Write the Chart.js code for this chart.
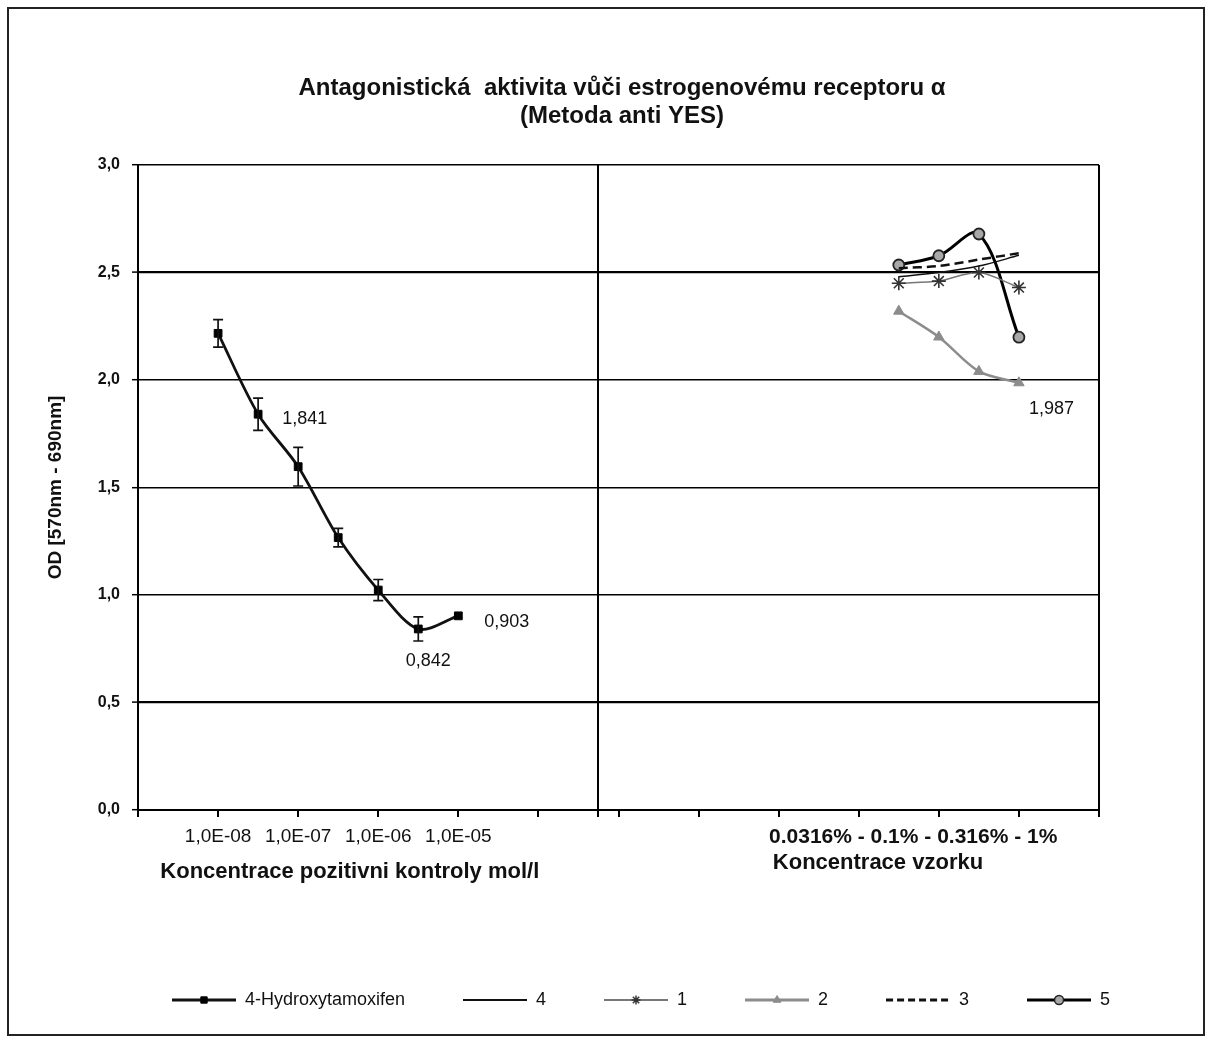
<!DOCTYPE html>
<html><head><meta charset="utf-8">
<script src="https://cdn.jsdelivr.net/npm/chart.js@4/dist/chart.umd.min.js"></script>
<style>html,body{margin:0;padding:0;background:#fff}canvas{display:block}</style>
</head><body>
<canvas id="c" width="1212" height="1038" style="width:1212px;height:1038px"></canvas>
<script>
// ---------- data ----------
const titleLines = ['Antagonistická  aktivita vůči estrogenovému receptoru α', '(Metoda anti YES)'];
const yAxisTitle = 'OD [570nm - 690nm]';
const xTitleControl = 'Koncentrace pozitivni kontroly mol/l';
const xTitleSample = 'Koncentrace vzorku';
const controlConc = ['1,0E-08', '3,16E-08', '1,0E-07', '3,16E-07', '1,0E-06', '3,16E-06', '1,0E-05'];
const sampleConc = ['0.0316%', '0.1%', '0.316%', '1%'];
const yTicks = [0, 0.5, 1, 1.5, 2, 2.5, 3];
const hydroxy = [2.217, 1.841, 1.597, 1.267, 1.023, 0.842, 0.903];
const hydroxyErr = [0.064, 0.075, 0.09, 0.043, 0.049, 0.056, 0.0];
const s4 = [2.48, 2.50, 2.53, 2.58];
const s1 = [2.45, 2.46, 2.50, 2.43];
const s2 = [2.32, 2.20, 2.04, 1.987];
const s3 = [2.52, 2.53, 2.56, 2.59];
const s5 = [2.535, 2.578, 2.679, 2.199];

// ---------- layout constants (category slots on the x axis) ----------
const SLOTS = 24, CONTROL_START = 2, SAMPLE_START = 19, DIVIDER = 11.5, SAMPLE_LABEL_POS = 19.36;
const FONT = "'Liberation Sans', Arial, sans-serif";
Chart.defaults.font.family = FONT;
Chart.defaults.color = '#111';

const tickLabelMap = new Map();
controlConc.forEach((c, i) => { if (i % 2 === 0) tickLabelMap.set(CONTROL_START + i, c); });
tickLabelMap.set(SAMPLE_LABEL_POS, sampleConc.join(' - '));
const xTickValues = [];
for (let v = 0; v <= SLOTS; v += 2) { xTickValues.push(v); if (v === 10) xTickValues.push(DIVIDER); }
xTickValues.push(SAMPLE_LABEL_POS);
xTickValues.sort((a, b) => a - b);

const ctrlPts = vals => vals.map((v, i) => ({x: CONTROL_START + i, y: v}));
const smplPts = vals => vals.map((v, i) => ({x: SAMPLE_START + i, y: v}));

const datasets = [
  {label: '4-Hydroxytamoxifen', data: ctrlPts(hydroxy), borderColor: '#111', borderWidth: 2.8,
   pointStyle: 'rect', pointRadius: 5.5, pointBackgroundColor: '#000', pointBorderColor: '#000', pointBorderWidth: 1, tension: 0.3},
  {label: '4', data: smplPts(s4), borderColor: '#111', borderWidth: 1.4, pointRadius: 0, tension: 0.3},
  {label: '1', data: smplPts(s1), borderColor: '#777', borderWidth: 1.5, pointStyle: 'star', pointRadius: 7,
   pointBorderColor: '#333', pointBackgroundColor: '#333', pointBorderWidth: 1.6, tension: 0.3},
  {label: '2', data: smplPts(s2), borderColor: '#8c8c8c', borderWidth: 2.4, pointStyle: 'triangle', pointRadius: 6,
   pointBackgroundColor: '#8c8c8c', pointBorderColor: '#8c8c8c', pointBorderWidth: 1, tension: 0.3},
  {label: '3', data: smplPts(s3), borderColor: '#111', borderWidth: 2.5, borderDash: [9, 5], pointRadius: 0, tension: 0.3},
  {label: '5', data: smplPts(s5), borderColor: '#000', borderWidth: 3, pointStyle: 'circle', pointRadius: 5.5,
   pointBackgroundColor: '#a8a8a8', pointBorderColor: '#222', pointBorderWidth: 1.8, tension: 0.35}
];

// legend samples: line + marker
function makeSample(ds) {
  const c = document.createElement('canvas');
  c.width = 64; c.height = 16;
  const g = c.getContext('2d');
  g.strokeStyle = ds.borderColor; g.lineWidth = Math.min(ds.borderWidth + 0.4, 3);
  if (ds.borderDash) g.setLineDash([7, 4]);
  g.beginPath(); g.moveTo(0, 8); g.lineTo(64, 8); g.stroke();
  g.setLineDash([]);
  if (ds.pointRadius > 0) {
    g.fillStyle = ds.pointBackgroundColor; g.strokeStyle = ds.pointBorderColor;
    g.lineWidth = Math.min(ds.pointBorderWidth || 1, 1.5);
    const opts = {pointStyle: ds.pointStyle, radius: Math.min(ds.pointRadius, 4.5), rotation: 0, borderWidth: g.lineWidth};
    if (Chart.helpers && Chart.helpers.drawPoint) Chart.helpers.drawPoint(g, opts, 32, 8);
  }
  return c;
}
const legendImgs = datasets.map(makeSample);

const dataLabels = [
  {ds: 0, i: 1, dx: 24, dy: 5, align: 'left'},
  {ds: 0, i: 5, dx: 10, dy: 32, align: 'center'},
  {ds: 0, i: 6, dx: 26, dy: 6, align: 'left'},
  {ds: 3, i: 3, dx: 10, dy: 26, align: 'left'}
];

const extras = {
  id: 'extras',
  beforeDraw(chart) {
    const {ctx} = chart;
    ctx.save();
    ctx.fillStyle = '#fff'; ctx.fillRect(0, 0, chart.width, chart.height);
    ctx.strokeStyle = '#222'; ctx.lineWidth = 2;
    ctx.strokeRect(8, 8, 1196, 1027);
    ctx.restore();
  },
  afterLayout(chart) {
    const lg = chart.legend;
    if (lg) { lg.left += 19; lg.right += 19; }
  },
  afterDatasetsDraw(chart) {
    const {ctx} = chart;
    const xs = chart.scales.x, ys = chart.scales.y;
    ctx.save();
    ctx.strokeStyle = '#111'; ctx.lineWidth = 1.7;
    hydroxy.forEach((v, i) => {
      const e = hydroxyErr[i];
      if (!e) return;
      const x = xs.getPixelForValue(CONTROL_START + i);
      const yt = ys.getPixelForValue(v + e), yb = ys.getPixelForValue(v - e);
      ctx.beginPath();
      ctx.moveTo(x, yt); ctx.lineTo(x, yb);
      ctx.moveTo(x - 5, yt); ctx.lineTo(x + 5, yt);
      ctx.moveTo(x - 5, yb); ctx.lineTo(x + 5, yb);
      ctx.stroke();
    });
    ctx.fillStyle = '#111';
    ctx.font = '18px ' + FONT;
    ctx.textBaseline = 'middle';
    dataLabels.forEach(d => {
      const pt = chart.getDatasetMeta(d.ds).data[d.i];
      const v = chart.data.datasets[d.ds].data[d.i].y;
      ctx.textAlign = d.align;
      ctx.fillText(v.toFixed(3).replace('.', ','), pt.x + d.dx, pt.y + d.dy);
    });
    ctx.restore();
  },
  afterDraw(chart) {
    const {ctx} = chart;
    const xs = chart.scales.x;
    ctx.save();
    ctx.fillStyle = '#111';
    ctx.font = 'bold 22px ' + FONT;
    ctx.textAlign = 'center'; ctx.textBaseline = 'middle';
    ctx.fillText(xTitleControl, xs.getPixelForValue(5.29), xs.top + 62);
    ctx.fillText(xTitleSample, xs.getPixelForValue(18.48), xs.top + 53);
    ctx.restore();
  }
};

new Chart(document.getElementById('c'), {
  type: 'line',
  data: {datasets},
  options: {
    responsive: false,
    animation: false,
    layout: {padding: {left: 40, right: 8, top: 74, bottom: 19}},
    elements: {line: {fill: false}},
    scales: {
      x: {
        type: 'linear', min: 0, max: SLOTS,
        afterBuildTicks: s => { s.ticks = xTickValues.map(v => ({value: v})); },
        ticks: {
          autoSkip: false, maxRotation: 0, minRotation: 0, padding: 8, color: '#111',
          font: c => (c.tick && c.tick.value === SAMPLE_LABEL_POS) ? {size: 21, weight: 'bold'} : {size: 19},
          callback: v => tickLabelMap.has(v) ? tickLabelMap.get(v) : ''
        },
        grid: {
          drawOnChartArea: true, lineWidth: 2, tickLength: 7, tickWidth: 2,
          color: c => (c.tick && (c.tick.value === DIVIDER || c.tick.value === SLOTS)) ? '#000' : 'rgba(0,0,0,0)',
          tickColor: c => (c.tick && c.tick.value === SAMPLE_LABEL_POS) ? 'rgba(0,0,0,0)' : '#000'
        },
        border: {color: '#000', width: 2},
        afterFit: s => { s.height = 123; }
      },
      y: {
        min: 0, max: 3,
        afterBuildTicks: s => { s.ticks = yTicks.map(v => ({value: v})); },
        ticks: {callback: v => Number(v).toFixed(1).replace('.', ','), font: {size: 16, weight: 'bold'}, color: '#111', padding: 12},
        grid: {
          color: '#000', tickLength: 6, tickColor: '#000', tickWidth: 1.5,
          lineWidth: c => (c.tick && (c.tick.value === 0.5 || c.tick.value === 2.5)) ? 2.2 : 1.4
        },
        border: {color: '#000', width: 2},
        title: {display: true, text: yAxisTitle, font: {size: 19, weight: 'bold'}, color: '#111', padding: {top: 4, bottom: 0}},
        afterFit: s => { s.width = 98; }
      },
      yRight: {
        position: 'right', display: true,
        grid: {display: false}, border: {display: false}, ticks: {display: false},
        afterFit: s => { s.width = 105; }
      }
    },
    plugins: {
      title: {
        display: true, text: titleLines, color: '#111',
        font: {size: 24, weight: 'bold', lineHeight: '28px'},
        padding: {top: 0, bottom: 35}
      },
      legend: {
        position: 'bottom', fullSize: true,
        labels: {
          usePointStyle: true, pointStyleWidth: 64, boxHeight: 14, padding: 58,
          font: {size: 18}, color: '#111',
          generateLabels: chart => chart.data.datasets.map((ds, i) => ({
            text: ds.label, pointStyle: legendImgs[i], datasetIndex: i, hidden: false,
            lineWidth: 0, strokeStyle: 'rgba(0,0,0,0)', fillStyle: 'rgba(0,0,0,0)', fontColor: '#111'
          }))
        }
      },
      tooltip: {enabled: false}
    }
  },
  plugins: [extras]
});
</script>
</body></html>
